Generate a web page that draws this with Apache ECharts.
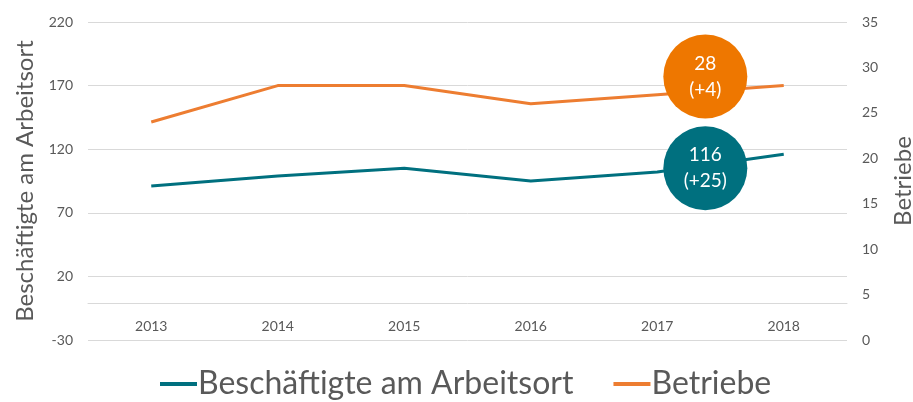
<!DOCTYPE html>
<html><head><meta charset="utf-8">
<script src="https://cdn.jsdelivr.net/npm/echarts@6/dist/echarts.min.js"></script>
<style>html,body{margin:0;padding:0;background:#fff}#c{width:913px;height:402px}</style>
</head><body><div id="c"></div>
<script>
const categories = ['2013','2014','2015','2016','2017','2018'];
const beschaeftigte = [91, 99, 105, 95, 102, 116];
const betriebe = [24, 28, 28, 26, 27, 28];
const leftTicks = {min: -30, max: 220, interval: 50};
const rightTicks = {min: 0, max: 35, interval: 5};
// annotation bubbles: [x position in category index units, value, label]
const bubbleBesch = [[4.38, 105, '116\n(+25)']];
const bubbleBetr = [[4.38, 29, '28\n(+4)']];

const font = 'Lato, "Open Sans", sans-serif';
const grey = '#595959';
const teal = '#00707F';
const orange = '#ED7D31';
const orangeBubble = '#EE7700';

const chart = echarts.init(document.getElementById('c'));
chart.setOption({
  animation: false,
  textStyle: {fontFamily: font},
  grid: {left: 88, right: 66, top: 22, bottom: 62, containLabel: false, outerBoundsMode: 'none'},
  legend: {
    bottom: -3, left: 155,
    itemWidth: 37, itemHeight: 4, itemGap: 40,
    icon: 'rect',
    textStyle: {fontSize: 32, color: grey, fontFamily: font, padding: [0,0,0,-4]},
    data: ['Beschäftigte am Arbeitsort', 'Betriebe']
  },
  xAxis: [{
    type: 'category', data: categories, boundaryGap: true,
    offset: -37,
    axisLine: {show: true, onZero: false, lineStyle: {color: '#d9d9d9', width: 1}},
    axisTick: {show: false},
    axisLabel: {color: grey, fontSize: 14, margin: 16, fontFamily: font}
  }, {
    type: 'value', min: -0.5, max: 5.5, show: false
  }],
  yAxis: [{
    type: 'value', min: leftTicks.min, max: leftTicks.max, interval: leftTicks.interval,
    name: 'Beschäftigte am Arbeitsort', nameLocation: 'middle', nameGap: 50,
    nameTextStyle: {fontSize: 24, color: grey, fontFamily: font},
    axisLine: {show: false}, axisTick: {show: false},
    axisLabel: {color: grey, fontSize: 14, margin: 15, fontFamily: font},
    splitLine: {lineStyle: {color: '#d9d9d9', width: 1}}
  }, {
    type: 'value', min: rightTicks.min, max: rightTicks.max, interval: rightTicks.interval,
    name: 'Betriebe', nameLocation: 'middle', nameGap: 44, nameRotate: 90,
    nameTextStyle: {fontSize: 24, color: grey, fontFamily: font},
    axisLine: {show: false}, axisTick: {show: false},
    axisLabel: {color: grey, fontSize: 14, margin: 15, fontFamily: font},
    splitLine: {show: false}
  }],
  series: [{
    name: 'Beschäftigte am Arbeitsort', type: 'line', data: beschaeftigte,
    yAxisIndex: 0, symbol: 'none', lineStyle: {color: teal, width: 3}, itemStyle: {color: teal}
  }, {
    name: 'Betriebe', type: 'line', data: betriebe,
    yAxisIndex: 1, symbol: 'none', lineStyle: {color: orange, width: 3}, itemStyle: {color: orange}
  }, {
    type: 'scatter', xAxisIndex: 1, yAxisIndex: 0, symbolSize: 84,
    data: bubbleBesch.map(d => ({value: [d[0], d[1]], label: {formatter: d[2]}})),
    itemStyle: {color: teal, opacity: 1},
    label: {show: true, position: 'inside', color: '#fff', fontSize: 19, lineHeight: 26, fontFamily: font},
    z: 5
  }, {
    type: 'scatter', xAxisIndex: 1, yAxisIndex: 1, symbolSize: 84,
    data: bubbleBetr.map(d => ({value: [d[0], d[1]], label: {formatter: d[2]}})),
    itemStyle: {color: orangeBubble, opacity: 1},
    label: {show: true, position: 'inside', color: '#fff', fontSize: 19, lineHeight: 26, fontFamily: font},
    z: 5
  }]
});
</script></body></html>
